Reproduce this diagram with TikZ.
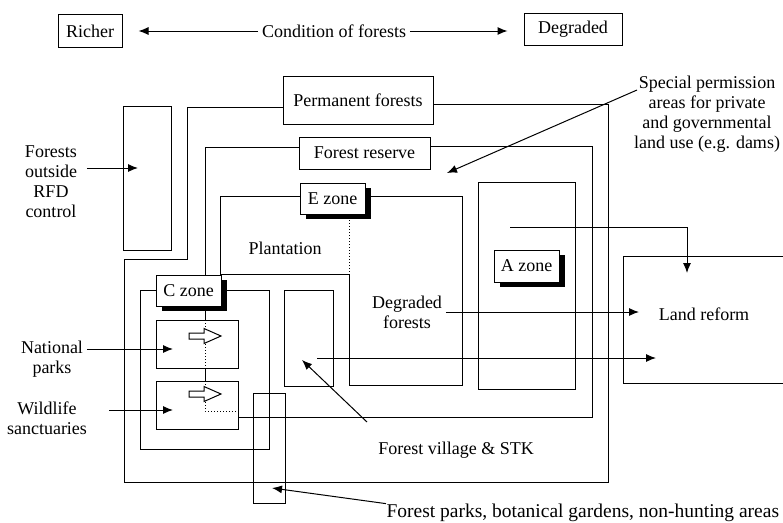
\documentclass[tikz,border=0pt]{standalone}
\usepackage{fontspec}
\setmainfont{Liberation Serif}
\usetikzlibrary{arrows.meta,shadows}

\begin{document}
\begin{tikzpicture}[x=1pt,y=-1pt,line width=1pt,
  font=\fontsize{18}{20}\selectfont,
  box/.style={draw,fill=white,inner sep=0pt},
  zbox/.style={box,drop shadow={shadow xshift=6pt,shadow yshift=-5pt,fill=black,opacity=1}},
  arr/.style={-{Latex[length=10pt,width=8pt]}}]
\useasboundingbox (0,0) rectangle (783,522);

\draw (283,107) -- (187,107) -- (187,259) -- (124,259) -- (124,482) -- (608,482) -- (608,104) -- (433,104);
\draw (299,147) -- (205,147) -- (205,320);
\draw[dotted] (205,320) -- (205,368);
\draw (205,368) -- (205,381);
\draw[dotted] (205,381) -- (205,411) -- (238,411);
\draw (238,417) -- (592,417) -- (592,146) -- (430,146);
\draw (300,196) -- (220,196) -- (220,274) -- (349,274) -- (349,385) -- (462,385) -- (462,196) -- (365,196);
\draw[dotted] (349,214) -- (349,274);
\draw (156,290) -- (140,290) -- (140,449) -- (269,449) -- (269,290) -- (221,290);

\node[box,minimum width=64pt,minimum height=33pt] (richer) at (90,31) {Richer};
\node[box,minimum width=98pt,minimum height=32pt] (degr) at (573,29) {Degraded};
\node (cond) at (334,31) {Condition of forests};
\draw[arr,shorten >=16pt] (cond.west) -- (richer.east |- cond.west);
\draw[arr,shorten >=16pt] (cond.east) -- (degr.west |- cond.east);

\node[box,minimum width=150pt,minimum height=48pt] (perm) at (358,100) {Permanent forests};
\node[box,minimum width=131pt,minimum height=32pt] (fres) at (364.5,153) {Forest reserve};
\node[draw,minimum width=48pt,minimum height=144pt] (fout) at (147,178) {};
\node[draw,minimum width=82pt,minimum height=48pt] (np) at (197,344) {};
\node[draw,minimum width=82pt,minimum height=48pt] (ws) at (197,405) {};
\node[draw,minimum width=49pt,minimum height=96pt] (vbox) at (308.5,338) {};
\node[draw,minimum width=32pt,minimum height=110pt] (fpark) at (269,448) {};
\node[draw,minimum width=97pt,minimum height=207pt] (arect) at (526.5,285.5) {};
\node[draw,minimum width=164pt,minimum height=127pt] (lrbox) at (705,319.5) {};

\node[zbox,minimum width=65pt,minimum height=31pt] (ez) at (332.5,198.5) {E zone};
\node[zbox,minimum width=65pt,minimum height=31pt] (cz) at (188.5,290.5) {C zone};
\node[zbox,minimum width=65pt,minimum height=32pt] (az) at (526.5,266) {A zone};

\foreach \yy in {336,394}
  \draw[fill=white] (189,\yy-3) -- (204,\yy-3) -- (204,\yy-7.5) -- (221,\yy) -- (204,\yy+7.5) -- (204,\yy+3) -- (189,\yy+3) -- cycle;

\node[align=center] (fo) at (51,182) {Forests\\outside\\RFD\\control};
\node[align=center] (npl) at (52,359) {National\\parks};
\node[align=center] (wsl) at (47,418) {Wildlife\\sanctuaries};
\node[align=center] (spl) at (707,114) {Special permission\\areas for private\\and governmental\\land use (e.g. dams)};
\node (plant) at (285,248) {Plantation};
\node[align=center] (dgf) at (407,312) {Degraded\\forests};
\node (fvil) at (456,450) {Forest village \& STK};
\node[anchor=west,inner sep=0pt,font=\fontsize{19.5}{22}\selectfont] (fpl) at (386,513) {Forest parks, botanical gardens, non-hunting areas};
\node (lr) at (704,314) {Land reform};

\coordinate (fo-e) at (138,168);
\coordinate (np-e) at (173,349);
\coordinate (ws-s) at (109,410);
\coordinate (ws-e) at (173,410);
\coordinate (sp-s) at (637,90);
\coordinate (sp-e) at (447,173);
\coordinate (az-s) at (510,227);
\coordinate (lr-a) at (687,273);
\coordinate (lr-b) at (639,312);
\coordinate (vb-s) at (317,358);
\coordinate (lr-c) at (656,358);
\coordinate (fv-s) at (367,422);
\coordinate (vb-e) at (302,360);
\coordinate (fp-e) at (272,488);

\draw[arr] (fo.east |- fo-e) ++(6,0) -- (fo-e);
\draw[arr] (npl.east |- np-e) -- (np-e);
\draw[arr] (ws-s) -- (ws-e);
\draw[arr] (sp-s) -- (sp-e);
\draw[arr] (az-s) -| (lr-a);
\draw[arr] (dgf.east |- lr-b) -- (lr-b);
\draw[arr] (vb-s) -- (lr-c);
\draw[arr] (fv-s) -- (vb-e);
\draw[arr] (fpl.north west) -- (fp-e);

\end{tikzpicture}
\end{document}
